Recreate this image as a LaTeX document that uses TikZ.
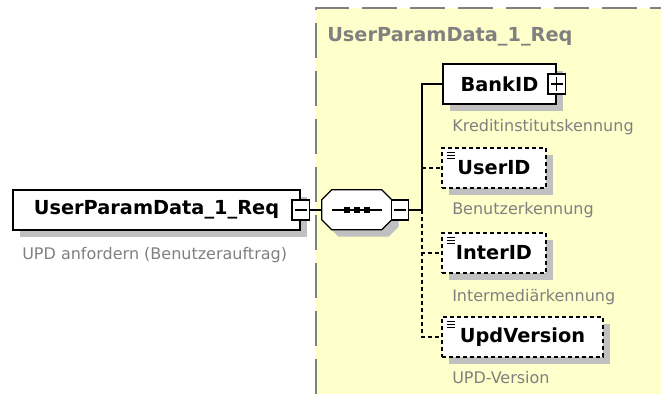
\documentclass[tikz,border=0pt]{standalone}
\usepackage{fontspec}
\setmainfont{DejaVu Sans}
\usetikzlibrary{shadows}

\definecolor{grpfill}{RGB}{255,255,204}
\definecolor{grpline}{RGB}{128,128,128}
\definecolor{shadowgray}{RGB}{192,192,192}
\definecolor{infotext}{RGB}{128,128,128}

\begin{document}
\begin{tikzpicture}[x=0.75pt,y=-0.75pt,
  boxshadow/.style={general shadow={fill=shadowgray,shadow xshift=5.25pt,shadow yshift=-5.25pt}},
  elem/.style={draw,line width=1pt,fill=white,inner sep=0pt,minimum height=30pt,
    font=\fontsize{14.5}{16}\selectfont\bfseries,boxshadow},
  optelem/.style={elem,dash pattern=on 3pt off 2.25pt,
    path picture={\foreach \k in {4,7,10}
      \draw[solid,line width=0.75pt] ([shift={(5,\k)}]path picture bounding box.north west) -- +(8,0);}},
  toggle/.style={draw,solid,line width=0.8pt,fill=white,inner sep=0pt,minimum width=13pt,minimum height=15pt},
  minusbox/.style={toggle,path picture={
    \draw[line width=0.8pt] ([xshift=-4.5pt]path picture bounding box.center) -- ([xshift=4.5pt]path picture bounding box.center);}},
  plusbox/.style={toggle,path picture={
    \draw[line width=0.8pt] ([xshift=-4.5pt]path picture bounding box.center) -- ([xshift=4.5pt]path picture bounding box.center)
      ([yshift=-5pt]path picture bounding box.center) -- ([yshift=5pt]path picture bounding box.center);}},
  seqbox/.style={inner sep=0pt,minimum width=52.5pt,minimum height=30pt},
  info/.style={anchor=west,inner sep=0pt,text=infotext,font=\fontsize{12}{14}\selectfont},
  link/.style={line width=1pt},
  optlink/.style={line width=1pt,dash pattern=on 3pt off 2.25pt}]

\useasboundingbox (0,0) rectangle (661,394);

% group area
\fill[grpfill] (316,8) rectangle (661,394);
\draw[grpline,line width=1.5pt,dash pattern=on 26pt off 10pt] (316,394) -- (316,8) -- (661,8);
\node[anchor=west,inner sep=0pt,text=grpline,font=\fontsize{14.5}{16}\selectfont\bfseries] (grptitle) at (327,37) {UserParamData\_1\_Req};

% root element
\node[elem,minimum width=215.25pt] (root) at (156.5,210) {UserParamData\_1\_Req};
\node[minusbox] (rootminus) at (root.east) {};
\node[info] (rootinfo) at (22,255) {UPD anfordern (Benutzerauftrag)};

% sequence
\node[seqbox] (seq) at (357,210) {};
\fill[shadowgray] ([shift={(17,7)}]seq.north west) -- ++(50,0) -- ++(10,10) -- ++(0,20) -- ++(-10,10)
  -- ++(-50,0) -- ++(-10,-10) -- ++(0,-20) -- cycle;
\filldraw[fill=white,line width=1pt] ([shift={(10,0)}]seq.north west) -- ++(50,0) -- ++(10,10) -- ++(0,20) -- ++(-10,10)
  -- ++(-50,0) -- ++(-10,-10) -- ++(0,-20) -- cycle;
\draw[line width=1pt] ([xshift=-18.75pt]seq.center) -- ([xshift=18.75pt]seq.center);
\foreach \i in {-10,0,10}
  \fill ([shift={(\i-3,-3)}]seq.center) rectangle +(6,6);
\node[minusbox] (seqminus) at ([xshift=6pt]seq.east) {};
\coordinate (trunk) at (422,210);

% children
\node[elem,minimum width=84.75pt] (bank) at (499.5,84) {BankID};
\node[plusbox] (bankplus) at (bank.east) {};
\node[info] (bankinfo) at (452,127) {Kreditinstitutskennung};

\node[optelem,minimum width=78pt] (user) at (494,168) {UserID};
\node[info] (userinfo) at (452,210) {Benutzerkennung};

\node[optelem,minimum width=78pt] (inter) at (494,253) {InterID};
\node[info] (interinfo) at (452,297) {Intermediärkennung};

\node[optelem,minimum width=120.75pt] (upd) at (522.5,337) {UpdVersion};
\node[info] (updinfo) at (452,378) {UPD-Version};

% connectors
\draw[link] (rootminus.east) -- (seq.west);
\draw[link] (seqminus.east) -- (trunk);
\draw[link] (trunk) |- (bank.west);
\draw[optlink] (trunk) |- (user.west);
\draw[optlink] (trunk) |- (inter.west);
\draw[optlink] (trunk) |- (upd.west);
\end{tikzpicture}
\end{document}
